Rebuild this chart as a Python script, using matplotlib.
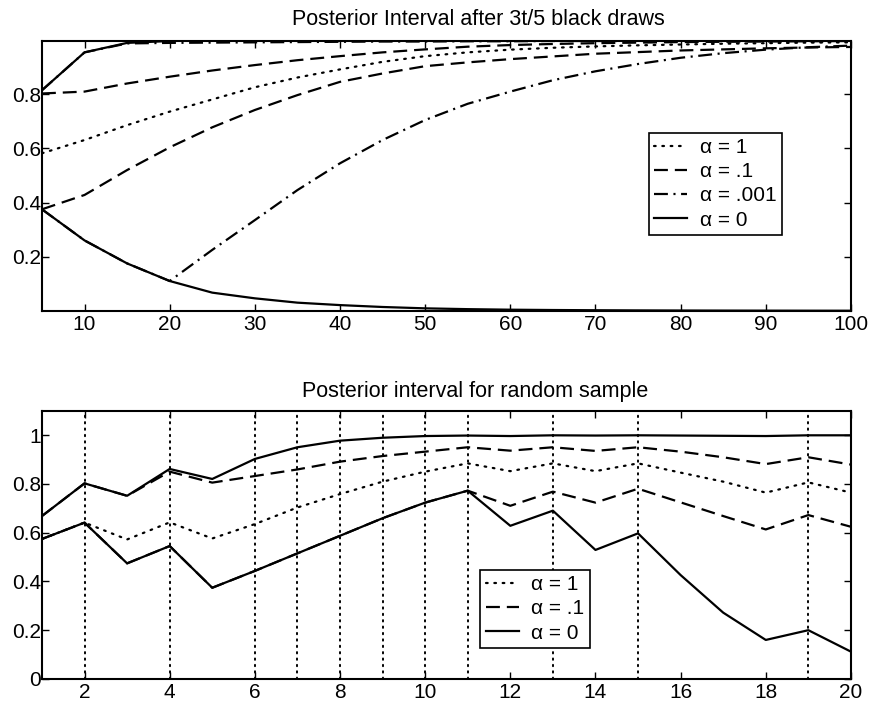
import matplotlib
matplotlib.use('Agg')
import matplotlib.pyplot as plt

plt.rcParams['font.family'] = ['Liberation Sans', 'DejaVu Sans']
plt.rcParams['lines.scale_dashes'] = False

# --- top panel: interval after 3t/5 black draws ---
t = [5, 10, 15, 20, 25, 30, 35, 40, 45, 50, 55, 60, 65, 70, 75, 80, 85, 90, 95, 100]

a1_lo = [0.582, 0.631, 0.686, 0.736, 0.781, 0.826, 0.862, 0.892, 0.920, 0.941,
         0.955, 0.965, 0.972, 0.977, 0.981, 0.984, 0.987, 0.989, 0.991, 0.992]
a01_lo = [0.375, 0.428, 0.52, 0.604, 0.678, 0.742, 0.797, 0.846, 0.877, 0.904,
          0.918, 0.93, 0.94, 0.95, 0.956, 0.962, 0.966, 0.97, 0.973, 0.975]
a01_hi = [0.803, 0.81, 0.84, 0.865, 0.888, 0.908, 0.926, 0.941, 0.955, 0.966,
          0.976, 0.982, 0.986, 0.989, 0.991, 0.993, 0.994, 0.995, 0.996, 0.997]
a001_lo = [0.375, 0.26, 0.175, 0.11, 0.225, 0.335, 0.446, 0.545, 0.631, 0.705,
           0.765, 0.81, 0.852, 0.885, 0.912, 0.935, 0.952, 0.965, 0.974, 0.98]
a001_hi = [0.815, 0.955, 0.988, 0.99, 0.991, 0.992, 0.993, 0.994, 0.995, 0.995,
           0.996, 0.996, 0.997, 0.997, 0.997, 0.998, 0.998, 0.998, 0.998, 0.998]
a0_lo = [0.375, 0.26, 0.175, 0.11, 0.067, 0.046, 0.03, 0.021, 0.014, 0.009,
         0.006, 0.004, 0.0028, 0.002, 0.0014, 0.001, 0.0007, 0.0005, 0.0003, 0.0002]
a0_hi = [0.815, 0.955, 0.99, 0.997, 0.999, 1.0, 1.0, 1.0, 1.0, 1.0,
         1.0, 1.0, 1.0, 1.0, 1.0, 1.0, 1.0, 1.0, 1.0, 1.0]

# --- bottom panel: random sample ---
n = list(range(1, 21))
r_a1_lo = [0.574, 0.641, 0.572, 0.642, 0.576, 0.635, 0.703, 0.758, 0.809, 0.85,
           0.884, 0.852, 0.884, 0.852, 0.884, 0.846, 0.809, 0.764, 0.806, 0.764]
r_a01_lo = [0.574, 0.641, 0.474, 0.545, 0.374, 0.443, 0.515, 0.587, 0.659, 0.723,
            0.772, 0.71, 0.768, 0.723, 0.78, 0.724, 0.668, 0.613, 0.672, 0.624]
r_a01_hi = [0.668, 0.802, 0.751, 0.85, 0.805, 0.832, 0.859, 0.891, 0.914, 0.932,
            0.95, 0.936, 0.95, 0.935, 0.95, 0.932, 0.909, 0.881, 0.909, 0.879]
r_a0_lo = [0.574, 0.641, 0.474, 0.545, 0.374, 0.443, 0.515, 0.587, 0.659, 0.723,
           0.772, 0.628, 0.69, 0.529, 0.597, 0.426, 0.272, 0.16, 0.20, 0.112]
r_a0_hi = [0.668, 0.802, 0.751, 0.861, 0.82, 0.902, 0.95, 0.977, 0.989, 0.996,
           0.998, 0.996, 0.999, 0.998, 0.999, 0.998, 0.997, 0.996, 0.999, 0.999]
draw_marks = [1, 2, 4, 6, 7, 8, 9, 10, 11, 13, 15, 19]

DOT = (0, (1.2, 4.8))
DASH = (0, (10, 5))
DASHDOT = (0, (10, 4, 1.5, 4))
GRIDDOT = (0, (1.0, 3.6))
LW = 1.6
FS = 15

fig = plt.figure(figsize=(8.74, 7.02), dpi=100)

def style_axes(ax):
    ax.tick_params(direction='in', top=True, right=True, length=5, width=1,
                   labelsize=FS)
    ax.tick_params(axis='x', pad=3)
    ax.tick_params(axis='y', pad=0.5)
    for s in ax.spines.values():
        s.set_linewidth(1.5)

def add_legend(ax, handles, labels, anchor):
    leg = ax.legend(handles, labels, loc='upper left', bbox_to_anchor=anchor,
                    borderaxespad=0, fontsize=FS, handlelength=1.6,
                    handletextpad=0.6, labelspacing=0.25, borderpad=0.25,
                    fancybox=False, framealpha=1, edgecolor='k')
    leg.get_frame().set_linewidth(1.2)

# top
ax1 = fig.add_axes([0.048, 0.5573, 0.9256, 0.3843])
ax1.plot(t, a1_lo, color='k', lw=LW, ls=DOT, dash_capstyle='round', label='α = 1')
ax1.plot(t, a01_lo, color='k', lw=LW, ls=DASH, label='α = .1')
ax1.plot(t, a001_lo, color='k', lw=LW, ls=DASHDOT, label='α = .001')
ax1.plot(t, a0_lo, color='k', lw=LW, ls='-', label='α = 0')
ax1.plot(t, a01_hi, color='k', lw=LW, ls=DASH)
ax1.plot(t, a001_hi, color='k', lw=LW, ls=DASHDOT)
ax1.plot(t, a0_hi, color='k', lw=LW, ls='-')
ax1.set_xlim(5, 100)
ax1.set_ylim(0, 0.997)
ax1.set_xticks(range(10, 101, 10))
ax1.set_yticks([0.2, 0.4, 0.6, 0.8])
ax1.set_yticklabels(['0.2', '0.4', '0.6', '0.8'])
ax1.text(0.539, 1.0 + 21 / 269.8, 'Posterior Interval after 3t/5 black draws',
         transform=ax1.transAxes, ha='center', va='center', fontsize=15.5)
style_axes(ax1)
h, l = ax1.get_legend_handles_labels()
add_legend(ax1, h, l, (0.750, 0.660))

# bottom
ax2 = fig.add_axes([0.048, 0.0328, 0.9256, 0.3822])
for m in draw_marks:
    ax2.plot([m, m], [0, 1.1], color='k', lw=1.4, ls=GRIDDOT, dash_capstyle='round')
ax2.plot([1, 20], [0, 0], color='k', lw=1.4, ls=GRIDDOT, dash_capstyle='round')
ax2.plot([1, 20], [1.1, 1.1], color='k', lw=1.4, ls=GRIDDOT, dash_capstyle='round')
ax2.plot(n, r_a1_lo, color='k', lw=LW, ls=DOT, dash_capstyle='round', label='α = 1')
ax2.plot(n, r_a01_lo, color='k', lw=LW, ls=DASH, label='α = .1')
ax2.plot(n, r_a0_lo, color='k', lw=LW, ls='-', label='α = 0')
ax2.plot(n, r_a01_hi, color='k', lw=LW, ls=DASH)
ax2.plot(n, r_a0_hi, color='k', lw=LW, ls='-')
ax2.set_xlim(1, 20)
ax2.set_ylim(0, 1.1)
ax2.set_xticks(range(2, 21, 2))
ax2.set_yticks([0, 0.2, 0.4, 0.6, 0.8, 1])
ax2.set_yticklabels(['0', '0.2', '0.4', '0.6', '0.8', '1'])
ax2.text(0.535, 1.0 + 19 / 268.3, 'Posterior interval for random sample',
         transform=ax2.transAxes, ha='center', va='center', fontsize=15.5)
style_axes(ax2)
h, l = ax2.get_legend_handles_labels()
add_legend(ax2, h[-3:], l[-3:], (0.542, 0.406))

fig.savefig('out.png', dpi=100)
